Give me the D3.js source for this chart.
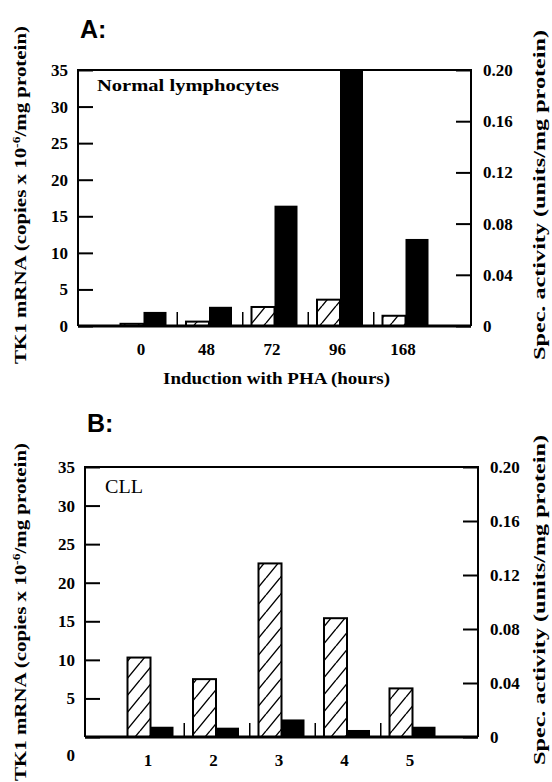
<!DOCTYPE html>
<meta charset="utf-8">
<html>
  <style>
    body { margin: 0; background: #fff; }
    text { font-family: "Liberation Serif", "Times New Roman", serif; font-weight: bold; fill: #000; }
    .panel-letter { font-family: "Liberation Sans", Arial, sans-serif; font-size: 25px; }
    .tick text { font-size: 17px; }
  </style>
  <head>
    <script src="https://d3js.org/d3.v7.min.js"></script>
  </head>
  <body>
    <script>
      // data
      var mrnaTicks = [0, 5, 10, 15, 20, 25, 30, 35];
      var activityTicks = [0, 0.04, 0.08, 0.12, 0.16, 0.20];

      var groupsA = ["0", "48", "72", "96", "168"];
      var mrnaA = [0.3, 0.6, 2.6, 3.6, 1.4];
      var activityA = [0.011, 0.015, 0.094, 0.20, 0.068];

      var groupsB = ["1", "2", "3", "4", "5"];
      var mrnaB = [10.3, 7.5, 22.5, 15.4, 6.3];
      var activityB = [0.0076, 0.0069, 0.013, 0.0052, 0.0076];

      var svg = d3.select("body").append("svg")
          .attr("width", 552)
          .attr("height", 782);

      svg.append("rect").attr("width", 552).attr("height", 782).attr("fill", "#fff");

      // hatch pattern for the mRNA bars
      svg.append("defs").append("pattern")
          .attr("id", "hatch")
          .attr("patternUnits", "userSpaceOnUse")
          .attr("width", 14).attr("height", 17)
        .append("path")
          .attr("d", "M0,17 L14,0 M-14,17 L0,0 M14,17 L28,0")
          .attr("stroke", "#000")
          .attr("stroke-width", 1.4);

      function drawPanel(p) {
        var g = svg.append("g");

        var y = d3.scaleLinear().domain([0, 35]).range([p.bottom, p.top]);
        var y2 = d3.scaleLinear().domain([0, 0.20]).range([p.bottom, p.top]);
        var x = d3.scalePoint().domain(p.groups).range([p.left, p.right]).padding(1);
        var bw = 23;

        // panel letter
        g.append("text").attr("class", "panel-letter")
          .attr("x", p.left + p.letterDx).attr("y", p.top - p.letterDy)
          .text(p.letter);

        // bars
        var rows = p.groups.map(function(k, i) {
          return {key: k, mrna: p.mrna[i], act: p.act[i]};
        });
        g.selectAll(".hbar").data(rows).enter().append("rect")
          .attr("x", function(d) { return x(d.key) - bw; })
          .attr("y", function(d) { return y(d.mrna); })
          .attr("width", bw)
          .attr("height", function(d) { return p.bottom - y(d.mrna); })
          .attr("fill", "url(#hatch)")
          .attr("stroke", "#000")
          .attr("stroke-width", 2);
        g.selectAll(".bbar").data(rows).enter().append("rect")
          .attr("x", function(d) { return x(d.key); })
          .attr("y", function(d) { return y2(d.act); })
          .attr("width", bw)
          .attr("height", function(d) { return p.bottom - y2(d.act); })
          .attr("fill", "#000");

        // small separators between groups
        var seps = p.groups.slice(1).map(function(k, i) {
          return (x(p.groups[i]) + x(k)) / 2 + 1;
        });
        g.selectAll(".sep").data(seps).enter().append("line")
          .attr("x1", function(d) { return d; }).attr("x2", function(d) { return d; })
          .attr("y1", p.bottom).attr("y2", p.bottom - 14)
          .attr("stroke", "#000").attr("stroke-width", 1.5);

        // axes
        var la = g.append("g").attr("transform", "translate(" + p.left + ",0)")
          .call(d3.axisLeft(y).tickValues(mrnaTicks).tickFormat(d3.format("d"))
                .tickSizeInner(-15).tickSizeOuter(0).tickPadding(10));
        la.select(".domain").remove();
        la.selectAll(".tick line").attr("stroke-width", 2);
        la.selectAll(".tick text").filter(function(d) { return d === 0; })
          .attr("dy", p.zeroDy);

        var ra = g.append("g").attr("transform", "translate(" + p.right + ",0)")
          .call(d3.axisRight(y2).tickValues(activityTicks)
                .tickFormat(function(d) { return d === 0 ? "0" : d3.format(".2f")(d); })
                .tickSizeInner(-15).tickSizeOuter(0).tickPadding(12));
        ra.select(".domain").remove();
        ra.selectAll(".tick line").attr("stroke-width", 2);

        var ba = g.append("g").attr("transform", "translate(0," + p.bottom + ")")
          .call(d3.axisBottom(x).tickSize(0).tickPadding(17));
        ba.select(".domain").remove();
        ba.selectAll(".tick text").attr("dx", p.labelDx);

        // frame
        g.append("path")
          .attr("d", "M" + p.left + "," + p.bottom + "V" + p.top + "H" + p.right + "V" + p.bottom)
          .attr("fill", "none").attr("stroke", "#000").attr("stroke-width", 2);
        g.append("line")
          .attr("x1", p.left).attr("x2", p.right)
          .attr("y1", p.bottom).attr("y2", p.bottom)
          .attr("stroke", "#000").attr("stroke-width", 3);

        // label inside plot
        g.append("text")
          .attr("x", p.left + p.noteDx).attr("y", p.top + p.noteDy)
          .style("font-size", p.noteSize + "px")
          .style("font-weight", p.noteWeight)
          .attr("textLength", p.noteLen).attr("lengthAdjust", "spacingAndGlyphs")
          .text(p.note);

        // left title
        var lt = g.append("text")
          .attr("text-anchor", "middle")
          .attr("transform", "translate(26," + p.leftTitleY + ")rotate(-90)")
          .style("font-size", "17px")
          .attr("textLength", 338).attr("lengthAdjust", "spacingAndGlyphs");
        lt.append("tspan").text("TK1 mRNA (copies x 10");
        lt.append("tspan").attr("dy", -6).style("font-size", "11px").text("-6");
        lt.append("tspan").attr("dy", 6).text("/mg protein)");

        // right title
        g.append("text")
          .attr("text-anchor", "middle")
          .attr("transform", "translate(545," + p.rightTitleY + ")rotate(-90)")
          .style("font-size", "17px")
          .attr("textLength", 330).attr("lengthAdjust", "spacingAndGlyphs")
          .text("Spec. activity (units/mg protein)");

        if (p.xTitle) {
          g.append("text")
            .attr("text-anchor", "middle")
            .attr("x", (p.left + p.right) / 2 + 2).attr("y", p.bottom + 58)
            .style("font-size", "17px")
            .attr("textLength", 227).attr("lengthAdjust", "spacingAndGlyphs")
            .text(p.xTitle);
        }
      }

      drawPanel({
        letter: "A:", letterDx: 2, letterDy: 32,
        groups: groupsA, mrna: mrnaA, act: activityA,
        left: 78, right: 471, top: 70, bottom: 326,
        note: "Normal lymphocytes", noteDx: 19, noteDy: 21, noteSize: 17, noteWeight: "bold", noteLen: 182,
        zeroDy: "0.32em", labelDx: -3,
        leftTitleY: 195, rightTitleY: 195,
        xTitle: "Induction with PHA (hours)"
      });

      drawPanel({
        letter: "B:", letterDx: 2, letterDy: 35,
        groups: groupsB, mrna: mrnaB, act: activityB,
        left: 85, right: 478, top: 467, bottom: 737,
        note: "CLL", noteDx: 20, noteDy: 26, noteSize: 18, noteWeight: "normal", noteLen: 38,
        zeroDy: "1.4em", labelDx: -3,
        leftTitleY: 612, rightTitleY: 600,
        xTitle: null
      });
    </script>
  </body>
</html>
